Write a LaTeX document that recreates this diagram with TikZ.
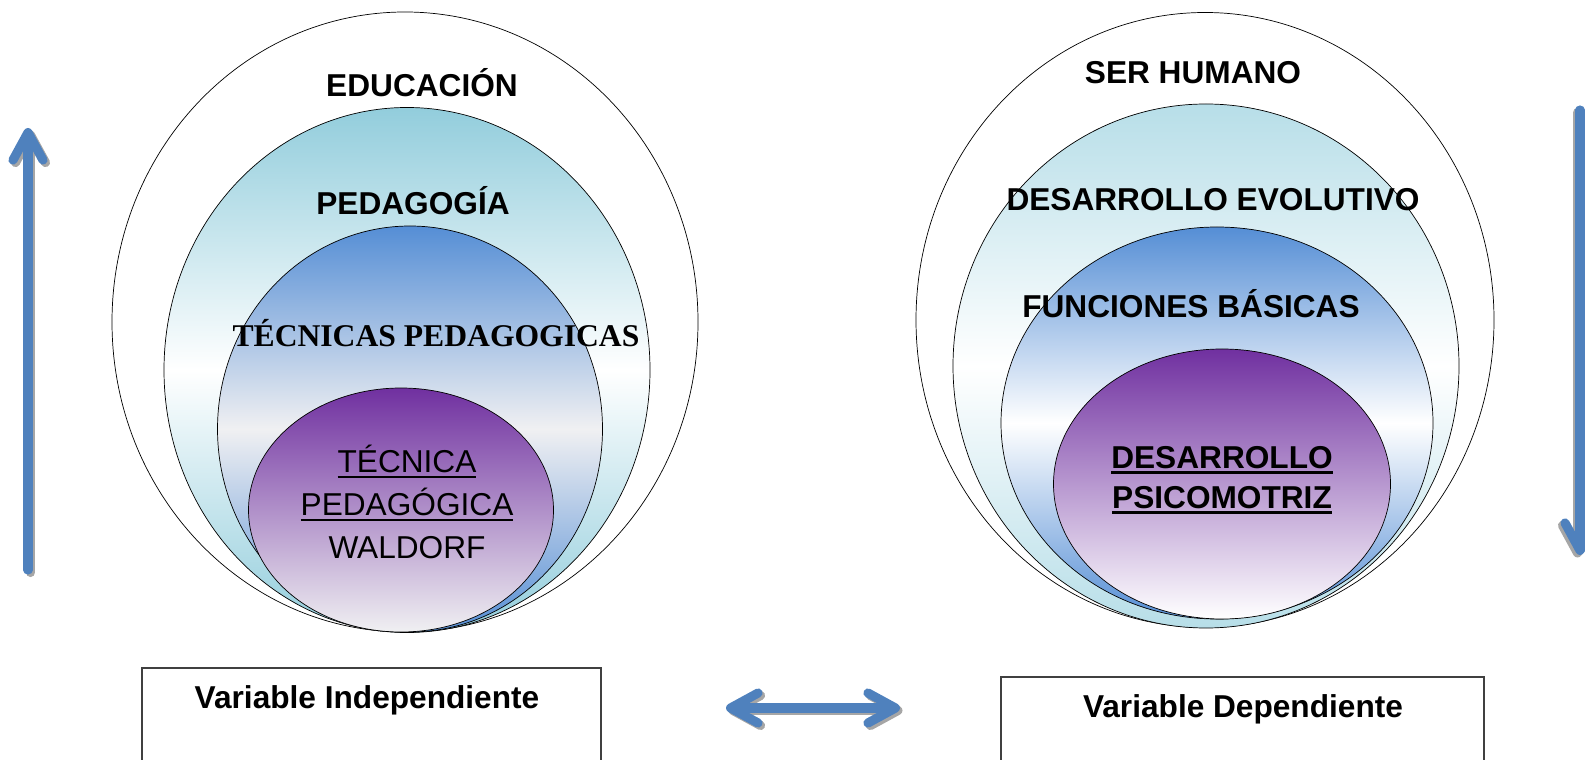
\documentclass[tikz,border=0pt]{standalone}
\usepackage{fontspec}
\setmainfont{Liberation Sans}
\newfontfamily\serifbold{Liberation Serif}
\usetikzlibrary{shapes.geometric,arrows.meta,positioning,calc}
\definecolor{tealdark}{RGB}{146,205,220}
\definecolor{teallight}{RGB}{183,222,232}
\definecolor{bluemid}{RGB}{85,142,213}
\definecolor{purpdeep}{RGB}{112,48,160}
\definecolor{greypale}{RGB}{240,240,242}
\definecolor{arrowblue}{RGB}{79,129,189}
\newcommand{\lblsize}{\fontsize{18}{22}\selectfont}
\newcommand{\ulbar}[1]{\setbox0\hbox{#1}\rlap{\rule[-3.2pt]{\wd0}{1.5pt}}\box0}

\begin{document}
\begin{tikzpicture}
  \tikzstyle{ring}=[ellipse, draw=black, line width=0.4pt, inner sep=0pt]
  \tikzstyle{lbl}=[font=\bfseries\lblsize, inner sep=0pt]
  \tikzstyle{varbox}=[rectangle, draw=black!75, line width=0.6pt, inner sep=0pt]
  \tikzstyle{bigarrow}=[line width=5.2pt, draw=arrowblue, line cap=round]
  \tikzstyle{arrowshade}=[line width=5.2pt, draw=black!35, line cap=round]

  \useasboundingbox (0,0) rectangle (31.70,15.18);
  \clip (0,0) rectangle (31.70,15.18);

  % Variable independiente
  \node[ring, minimum width=11.72cm, minimum height=12.40cm] (educ) at (8.10,8.74) {};
  \node[ring, minimum width=9.72cm, minimum height=10.50cm, top color=tealdark, bottom color=tealdark, middle color=white] (peda) at (8.14,7.78) {};
  \node[ring, minimum width=7.70cm, minimum height=8.12cm, top color=bluemid, bottom color=bluemid, middle color=greypale] (tecs) at (8.20,6.60) {};
  \node[ring, minimum width=6.10cm, minimum height=4.88cm, top color=purpdeep, bottom color=greypale] (wald) at (8.02,4.98) {};

  % Variable dependiente
  \node[ring, minimum width=11.56cm, minimum height=12.30cm] (human) at (24.10,8.78) {};
  \node[ring, minimum width=10.12cm, minimum height=10.48cm, top color=teallight, bottom color=teallight, middle color=white] (evol) at (24.12,7.86) {};
  \node[ring, minimum width=8.64cm, minimum height=7.84cm, top color=bluemid, bottom color=bluemid, middle color=white] (func) at (24.34,6.72) {};
  \node[ring, minimum width=6.74cm, minimum height=5.40cm, top color=purpdeep, bottom color=white] (psico) at (24.44,5.50) {};

  % Etiquetas
  \node[lbl] (leduc) at (8.44,13.52) {EDUCACIÓN};
  \node[lbl] (lpeda) at (8.26,11.16) {PEDAGOGÍA};
  \node[lbl, font=\serifbold\bfseries\lblsize] (ltecs) at (8.72,8.52) {TÉCNICAS PEDAGOGICAS};
  \node[inner sep=0pt, align=center, font=\fontsize{18}{24.4}\selectfont] (lwald) at (8.14,5.14) {\ulbar{TÉCNICA}\\\ulbar{PEDAGÓGICA}\\WALDORF};
  \node[lbl] (lhuman) at (23.86,13.72) {SER HUMANO};
  \node[lbl] (levol) at (24.26,11.18) {DESARROLLO EVOLUTIVO};
  \node[lbl] (lfunc) at (23.82,9.10) {FUNCIONES BÁSICAS};
  \node[lbl, align=center, font=\bfseries\fontsize{18}{22.8}\selectfont] (lpsico) at (24.44,5.58) {\ulbar{DESARROLLO}\\\ulbar{PSICOMOTRIZ}};

  % Cuadros
  \node[varbox, minimum width=9.18cm, minimum height=2.32cm] (indep) at (7.43,0.66) {};
  \node[lbl] (lindep) at (7.34,1.18) {Variable Independiente};
  \node[varbox, minimum width=9.66cm, minimum height=2.14cm] (dep) at (24.85,0.57) {};
  \node[lbl] (ldep) at (24.86,1.00) {Variable Dependiente};

  % Flechas
  \coordinate (up1) at (0.56,3.78);
  \coordinate (up2) at (0.56,12.62);
  \coordinate (dn1) at (31.60,12.98);
  \coordinate (dn2) at (31.60,4.08);
  \coordinate (mid1) at (14.52,1.02);
  \coordinate (mid2) at (18.00,1.02);

  \draw[arrowshade, -{Straight Barb[length=0.55cm,width=0.6cm,round]}] ([shift={(0.05,-0.05)}]up1) -- ([shift={(0.05,-0.05)}]up2);
  \draw[arrowshade, -{Straight Barb[length=0.55cm,width=0.6cm,round]}] ([shift={(-0.05,-0.05)}]dn1) -- ([shift={(-0.05,-0.05)}]dn2);
  \draw[arrowshade, {Straight Barb[length=0.55cm,width=0.6cm,round]}-{Straight Barb[length=0.55cm,width=0.6cm,round]}] ([shift={(0.05,-0.05)}]mid1) -- ([shift={(0.05,-0.05)}]mid2);

  \draw[bigarrow, -{Straight Barb[length=0.55cm,width=0.6cm,round]}] (up1) -- (up2);
  \draw[bigarrow, -{Straight Barb[length=0.55cm,width=0.6cm,round]}] (dn1) -- (dn2);
  \draw[bigarrow, {Straight Barb[length=0.55cm,width=0.6cm,round]}-{Straight Barb[length=0.55cm,width=0.6cm,round]}] (mid1) -- (mid2);
\end{tikzpicture}
\end{document}
